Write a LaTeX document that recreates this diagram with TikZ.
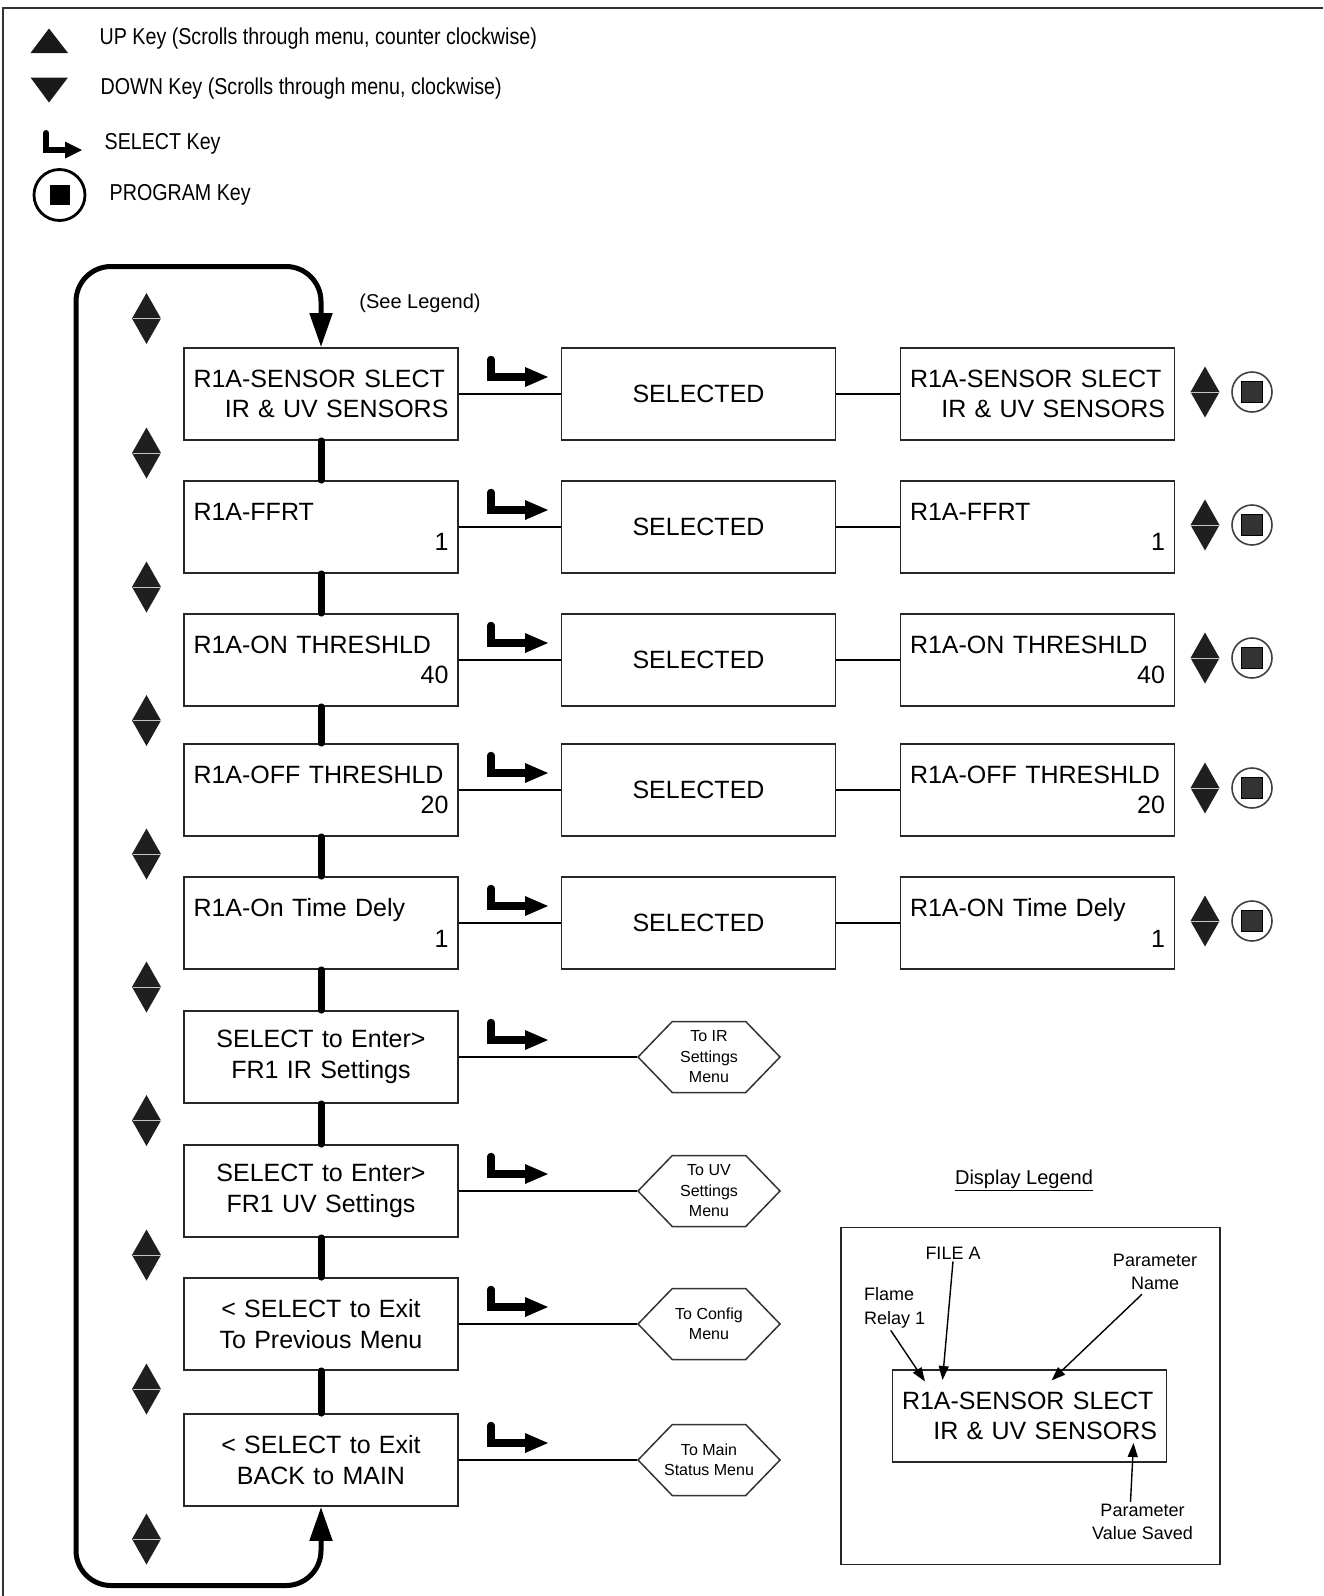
\documentclass[tikz,border=0pt]{standalone}
\usepackage{fontspec}
\setmainfont{Liberation Sans}
\newfontfamily\condfont[FakeStretch=0.855]{Liberation Sans}
\usetikzlibrary{arrows.meta,calc,shapes.symbols}

\newcommand\lcdfont{\fontsize{25}{30.5}\selectfont}
\newcommand\hexfont{\fontsize{16}{20.5}\selectfont}
\newcommand\keyfont{\condfont\fontsize{23}{27}\selectfont}
\newcommand\notefont{\fontsize{18}{23.5}\selectfont}
\newcommand\lcdtext[2]{#1\\\makebox[\linewidth][r]{#2}}

\tikzset{
  lcd/.style={draw=black!85, line width=1.8pt, minimum width=274pt, minimum height=92pt,
    text width=255pt, inner sep=0pt, align=left, font=\lcdfont},
  lcdc/.style={lcd, align=center},
  hexbox/.style={signal, signal to=east and west, signal pointer angle=92,
    draw=black!80, line width=1.5pt, minimum width=142pt, minimum height=71pt, inner sep=0pt},
  hextext/.style={font=\hexfont, align=center, inner sep=0pt},
  link/.style={line width=7pt, line cap=round},
  wire/.style={line width=1.5pt},
  loopline/.style={line width=5pt, rounded corners=35pt,
    {Triangle[length=34pt,width=22pt]}-{Triangle[length=34pt,width=22pt]}},
  callout/.style={line width=1.4pt, -{Triangle[length=14pt,width=10pt]}},
  note/.style={font=\notefont, align=center, inner sep=2pt},
  updown/.pic={
    \fill[black!88] (0,-25.5) -- (14.5,0) -- (0,25.5) -- (-14.5,0) -- cycle;
    \draw[gray!45, line width=1pt] (-14,0) -- (14,0);},
  progkey/.pic={
    \draw[black!75, line width=1.6pt] (0,0) circle (20pt);
    \filldraw[fill=black!80, draw=black, line width=1.2pt] (-10.5,-10.5) rectangle (10.5,10.5);},
  selkey/.pic={
    \draw[line width=7.5pt, line cap=round, line join=miter] (0,-17.5) -- (0,0) -- (36,0);
    \fill (34,-10) -- (57,0) -- (34,10) -- cycle;}
}

\begin{document}
\begin{tikzpicture}[x=1pt,y=-1pt]
\useasboundingbox (0,0) rectangle (1323,1596);
\draw[line width=2.5pt, black!80] (3,1596) -- (3,8) -- (1323,8);

% key legend
\fill[black!90] (30.5,53) -- (49,28.5) -- (68,53) -- cycle;
\fill[black!90] (30.5,77.5) -- (68,77.5) -- (49,102.5) -- cycle;
\draw[line width=6pt, line cap=round, line join=miter] (46,133) -- (46,150) -- (68,150);
\fill (65,141.5) -- (82,150) -- (65,158.5) -- cycle;
\draw[line width=2.8pt] (59.5,195) circle (25.5pt);
\fill (49.5,185) rectangle (69.5,205);
\node[font=\keyfont, anchor=west, inner sep=0pt] (kup) at (99.5,38.5) {UP Key (Scrolls through menu, counter clockwise)};
\node[font=\keyfont, anchor=west, inner sep=0pt] (kdown) at (100.5,89) {DOWN Key (Scrolls through menu, clockwise)};
\node[font=\keyfont, anchor=west, inner sep=0pt] (ksel) at (104.5,144) {SELECT Key};
\node[font=\keyfont, anchor=west, inner sep=0pt] (kprog) at (109.5,195) {PROGRAM Key};

% menu column
\node[lcd] (r1) at (321,394) {\lcdtext{R1A-SENSOR SLECT}{IR \& UV SENSORS}};
\node[lcd] (r2) at (321,527) {\lcdtext{R1A-FFRT}{1}};
\node[lcd] (r3) at (321,660) {\lcdtext{R1A-ON THRESHLD}{40}};
\node[lcd] (r4) at (321,790) {\lcdtext{R1A-OFF THRESHLD}{20}};
\node[lcd] (r5) at (321,923) {\lcdtext{R1A-On Time Dely}{1}};
\node[lcdc] (r6) at (321,1057) {SELECT to Enter>\\FR1 IR Settings};
\node[lcdc] (r7) at (321,1191) {SELECT to Enter>\\FR1 UV Settings};
\node[lcdc] (r8) at (321,1324) {< SELECT to Exit\\To Previous Menu};
\node[lcdc] (r9) at (321,1460) {< SELECT to Exit\\BACK to MAIN};
\node[font=\fontsize{20}{24}\selectfont, inner sep=0pt] (see) at (420,303) {(See Legend)};

\foreach \i/\j in {1/2,2/3,3/4,4/5,5/6,6/7,7/8,8/9}
  \draw[link] (r\i.south) -- (r\j.north);
\draw[loopline] (r1.north) |- (76,266.5) -- (76,1585.5) -| (r9.south);

\foreach \y in {318.5,453,587,720.5,854,987,1120.5,1255,1389,1539}
  \pic at (146.5,\y) {updown};

% selected and saved displays
\foreach \n/\y in {1/394,2/527,3/660,4/790,5/923}
  \node[lcdc] (s\n) at (698.5,\y) {SELECTED};
\node[lcd] (v1) at (1037.5,394) {\lcdtext{R1A-SENSOR SLECT}{IR \& UV SENSORS}};
\node[lcd] (v2) at (1037.5,527) {\lcdtext{R1A-FFRT}{1}};
\node[lcd] (v3) at (1037.5,660) {\lcdtext{R1A-ON THRESHLD}{40}};
\node[lcd] (v4) at (1037.5,790) {\lcdtext{R1A-OFF THRESHLD}{20}};
\node[lcd] (v5) at (1037.5,923) {\lcdtext{R1A-ON Time Dely}{1}};
\foreach \n/\y in {1/394,2/527,3/660,4/790,5/923}{
  \draw[wire] (r\n.east) -- (s\n.west);
  \draw[wire] (s\n.east) -- (v\n.west);
  \pic at (1205,\y-2) {updown};
  \pic at (1252,\y-2) {progkey};
}

% exits to other menus
\node[hexbox] (h6) at (709,1057) {};
\node[hexbox] (h7) at (709,1191) {};
\node[hexbox] (h8) at (709,1324) {};
\node[hexbox] (h9) at (709,1460) {};
\node[hextext] (t6) at (h6) {To IR\\Settings\\Menu};
\node[hextext] (t7) at (h7) {To UV\\Settings\\Menu};
\node[hextext] (t8) at (h8) {To Config\\Menu};
\node[hextext] (t9) at (h9) {To Main\\Status Menu};
\foreach \n in {6,7,8,9}
  \draw[wire] (r\n.east) -- (h\n.west);

\foreach \y in {394,527,660,790,923,1057,1191,1324,1460}
  \pic at (491,\y-17) {selkey};

% display legend
\node[font=\fontsize{20}{24}\selectfont, inner sep=0pt] (dlt) at (1024,1180) {\underline{Display Legend}};
\node[draw=black!85, line width=1.8pt, minimum width=379pt, minimum height=337pt, inner sep=0pt] (dlbox) at (1030.5,1396) {};
\node[lcd] (dl) at (1029.5,1416) {\lcdtext{R1A-SENSOR SLECT}{IR \& UV SENSORS}};
\node[note] (fa) at (953,1253) {FILE A};
\node[note, align=left, anchor=west] (fr) at (862,1308) {Flame\\Relay 1};
\node[note] (pn) at (1155,1272) {Parameter\\Name};
\node[note] (pv) at (1142.5,1522) {Parameter\\Value Saved};
\coordinate (tfa) at (942.5,1380);
\coordinate (tfr) at (925,1381.5);
\coordinate (tpn) at (1051.5,1380.5);
\coordinate (tpv) at (1133.5,1443);
\draw[callout] (fa.south) -- (tfa);
\draw[callout] ($(fr.south)+(-4,0)$) -- (tfr);
\draw[callout] ($(pn.south)+(-13,2)$) -- (tpn);
\draw[callout] ($(pv.north)+(-12,0)$) -- (tpv);
\end{tikzpicture}
\end{document}
